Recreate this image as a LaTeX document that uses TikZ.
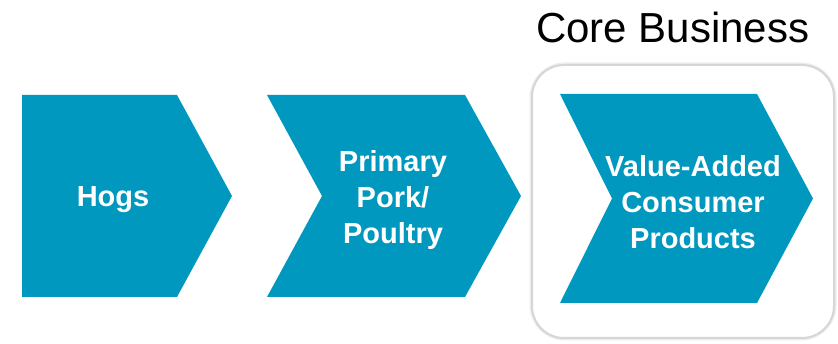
\documentclass[tikz,border=0pt]{standalone}
\usepackage{fontspec}
\setmainfont{Liberation Sans}
\begin{document}
\begin{tikzpicture}[x=1pt,y=-1pt,
  chevron/.style={fill=teal0, draw=none},
  steplabel/.style={text=white, font=\fontsize{29}{36}\selectfont\bfseries, align=center, inner sep=0pt},
  frame/.style={draw=black!16, line width=2pt, rounded corners=32pt, fill=white}]
\definecolor{teal0}{RGB}{0,152,191}
\useasboundingbox (0,0) rectangle (838,344);
\fill[white] (0,0) rectangle (838,344);

% core business frame with a faint outer halo
\draw[black!7, line width=5pt, rounded corners=33pt] (532,65) rectangle (834,338);
\draw[frame] (532,65) rectangle (834,338);
\node[anchor=base west, inner sep=0pt, font=\fontsize{42}{50}\selectfont] (title) at (536,43) {Core Business};

% value chain chevrons
\path[chevron] (22,95) -- (177,95) -- (232,196) -- (177,297) -- (22,297) -- cycle;
\path[chevron] (267,95) -- (465,95) -- (521,196) -- (465,297) -- (267,297) -- (322,196) -- cycle;
\path[chevron] (560,94) -- (757,94) -- (813,198.5) -- (757,303) -- (560,303) -- (612,198.5) -- cycle;

\node[steplabel, anchor=base] (hogs) at (113,207) {Hogs};
\node[steplabel] (pork) at (393,200) {Primary\\Pork/\\Poultry};
\node[steplabel] (value) at (693,202) {Value-Added\\Consumer\\Products};
\end{tikzpicture}
\end{document}
